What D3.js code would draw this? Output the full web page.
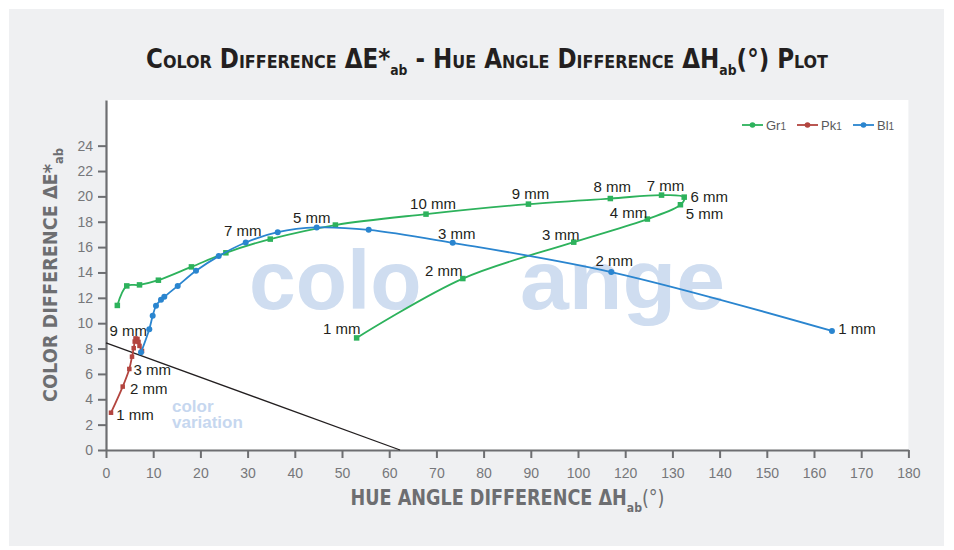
<!DOCTYPE html>
<html>
<head>
<meta charset="utf-8">
<script src="https://cdn.jsdelivr.net/npm/d3@7"></script>
<style>
  html, body { margin: 0; padding: 0; background: #ffffff; }
  svg { display: block; }
</style>
</head>
<body>
<svg id="chart" width="954" height="550"></svg>
<script>
// ---------------- data ----------------
const seriesNames = ["Gr1", "Pk1", "Bl1"];

const xTickValues = [0, 10, 20, 30, 40, 50, 60, 70, 80, 90, 100, 120, 130, 140, 150, 160, 170, 180];
const yTickValues = [0, 2, 4, 6, 8, 10, 12, 14, 16, 18, 20, 22, 24];

const gr1X = [53.1, 75.6, 99.1, 124.7, 131.7, 132.5, 127.7, 113.7, 89.5, 67.8, 48.6, 34.8, 25.4, 18.1, 11.1, 7.1, 4.4, 2.4];
const gr1Y = [8.84, 13.52, 16.39, 18.21, 19.34, 19.94, 20.10, 19.83, 19.39, 18.60, 17.74, 16.63, 15.55, 14.44, 13.39, 13.02, 12.94, 11.40];

const pk1X = [1.06, 3.54, 4.94, 5.51, 5.87, 6.08, 6.25, 6.67, 6.89, 7.10, 7.63];
const pk1Y = [2.94, 5.00, 6.39, 7.36, 8.03, 8.55, 8.80, 8.76, 8.52, 8.21, 7.81];

const bl1X = [163.8, 114.1, 73.45, 55.66, 44.64, 36.38, 29.60, 23.88, 19.07, 15.19, 12.35, 11.65, 10.59, 9.89, 9.17, 7.42];
const bl1Y = [9.39, 14.03, 16.34, 17.36, 17.55, 17.18, 16.36, 15.29, 14.13, 12.94, 12.08, 11.84, 11.37, 10.58, 9.53, 7.70];

// point labels: [point index, text]
const gr1Labels = [[0, "1 mm"], [1, "2 mm"], [2, "3 mm"], [3, "4 mm"], [4, "5 mm"], [5, "6 mm"], [6, "7 mm"], [7, "8 mm"], [8, "9 mm"], [9, "10 mm"]];
const pk1Labels = [[0, "1 mm"], [1, "2 mm"], [2, "3 mm"]];
const bl1Labels = [[0, "1 mm"], [1, "2 mm"], [2, "3 mm"], [4, "5 mm"], [6, "7 mm"], [14, "9 mm"]];

// reference (boundary) line
const refLineX = [0, 62.3];
const refLineY = [8.45, 0];

// watermark words
const watermarkWords = ["colo", "ange"];
const watermarkSmall = ["color", "variation"];

// ---------------- layout / style ----------------
const W = 954, H = 550;
const plot = { left: 106, top: 100, right: 908.4, bottom: 450 };
const colors = { Gr1: "#2db25c", Pk1: "#b3453f", Bl1: "#2a85cf" };
// label offsets (px) for each label, same order as the label arrays
const gr1LabelOff = [[-15, -9], [-19, -8], [-13, -8], [-19, -7], [24, 9], [25, -1], [4, -10], [2, -12], [2, -11], [7, -11]];
const pk1LabelOff = [[24, 2], [26, 2], [23, 1]];
const bl1LabelOff = [[25, -2], [3, -12], [4, -9], [-5, -10], [-3, -12], [-21, 1.5]];

const svg = d3.select("#chart");

svg.append("rect").attr("x", 0).attr("y", 0).attr("width", W).attr("height", H).attr("fill", "#ffffff");
svg.append("rect").attr("x", 9).attr("y", 9).attr("width", 935).attr("height", 537).attr("fill", "#eff0f2");
svg.append("rect").attr("x", plot.left).attr("y", plot.top)
  .attr("width", plot.right - plot.left).attr("height", plot.bottom - plot.top).attr("fill", "#ffffff");

// scales (tick 110 is absent on the original axis: 100 is followed directly by 120)
const x = d3.scaleLinear().domain([0, 100, 120, 180]).range([106, 578, 625.2, 908.4]);
const y = d3.scaleLinear().domain([0, 27.6]).range([450, 100]);

// watermark
const wm = svg.append("g").attr("fill", "#cfddf0").attr("font-family", "'Liberation Sans', Arial, sans-serif").attr("font-weight", "bold");
wm.append("text").attr("x", 249).attr("y", 309).attr("font-size", 84).text(watermarkWords[0]);
wm.append("text").attr("x", 520).attr("y", 309).attr("font-size", 84).attr("textLength", 205).attr("lengthAdjust", "spacingAndGlyphs").text(watermarkWords[1]);
const wms = svg.append("g").attr("fill", "#c6d7ef").attr("font-family", "'Liberation Sans', Arial, sans-serif").attr("font-weight", "bold").attr("font-size", 17);
wms.append("text").attr("x", 172).attr("y", 412).text(watermarkSmall[0]);
wms.append("text").attr("x", 172).attr("y", 428).text(watermarkSmall[1]);

// axes
const axisColor = "#6d6e71";
const xAxis = svg.append("g").attr("transform", `translate(0,${plot.bottom})`)
  .call(d3.axisBottom(x).tickValues(xTickValues).tickFormat(d => String(d)).tickSize(8).tickSizeOuter(0).tickPadding(10));
const yAxis = svg.append("g").attr("transform", `translate(${plot.left},0)`)
  .call(d3.axisLeft(y).tickValues(yTickValues).tickSize(8).tickSizeOuter(0).tickPadding(5));
[xAxis, yAxis].forEach(a => {
  a.select(".domain").attr("stroke", axisColor).attr("stroke-width", 2.2);
  a.selectAll(".tick line").attr("stroke", axisColor).attr("stroke-width", 2);
  a.selectAll(".tick text").attr("fill", "#76777a").attr("font-size", 14)
    .attr("font-family", "'Liberation Sans', Arial, sans-serif");
});

// reference line
const refPts = refLineX.map((v, i) => [v, refLineY[i]]);
svg.append("path").attr("d", d3.line().x(d => x(d[0])).y(d => y(d[1]))(refPts))
  .attr("fill", "none").attr("stroke", "#231f20").attr("stroke-width", 1.3);

// series
const series = [
  { name: "Gr1", xs: gr1X, ys: gr1Y, labels: gr1Labels, off: gr1LabelOff, marker: "square", size: 5.5 },
  { name: "Pk1", xs: pk1X, ys: pk1Y, labels: pk1Labels, off: pk1LabelOff, marker: "square", size: 4.5 },
  { name: "Bl1", xs: bl1X, ys: bl1Y, labels: bl1Labels, off: bl1LabelOff, marker: "circle", size: 3 }
];
const line = d3.line().x(d => x(d[0])).y(d => y(d[1])).curve(d3.curveCatmullRom.alpha(0.5));

series.forEach(s => {
  const pts = s.xs.map((v, i) => [v, s.ys[i]]);
  const g = svg.append("g");
  g.append("path").attr("d", line(pts)).attr("fill", "none")
    .attr("stroke", colors[s.name]).attr("stroke-width", 1.8);
  if (s.marker === "square") {
    g.selectAll("rect.m").data(pts).enter().append("rect").attr("class", "m")
      .attr("x", d => x(d[0]) - s.size / 2).attr("y", d => y(d[1]) - s.size / 2)
      .attr("width", s.size).attr("height", s.size).attr("fill", colors[s.name]);
  } else {
    g.selectAll("circle.m").data(pts).enter().append("circle").attr("class", "m")
      .attr("cx", d => x(d[0])).attr("cy", d => y(d[1])).attr("r", s.size).attr("fill", colors[s.name]);
  }
});

// point labels
series.forEach(s => {
  svg.append("g").selectAll("text").data(s.labels).enter().append("text")
    .attr("x", (d, i) => x(s.xs[d[0]]) + s.off[i][0])
    .attr("y", (d, i) => y(s.ys[d[0]]) + s.off[i][1])
    .attr("text-anchor", "middle").attr("dominant-baseline", "central")
    .attr("font-family", "'Liberation Sans', Arial, sans-serif").attr("font-size", 15)
    .attr("fill", "#231f20").text(d => d[1]);
});

// legend
const legend = svg.append("g").attr("font-family", "'Liberation Sans', Arial, sans-serif").attr("font-size", 13).attr("fill", "#58595b");
const legendX = [742, 797, 853];
seriesNames.forEach((n, i) => {
  const lx = legendX[i];
  legend.append("line").attr("x1", lx).attr("x2", lx + 21).attr("y1", 125).attr("y2", 125)
    .attr("stroke", colors[n]).attr("stroke-width", 1.8);
  legend.append("circle").attr("cx", lx + 10.5).attr("cy", 125).attr("r", 2.8).attr("fill", colors[n]);
  const t = legend.append("text").attr("x", lx + 24).attr("y", 129.5);
  t.append("tspan").text(n.slice(0, -1));
  t.append("tspan").attr("font-size", 10).text(n.slice(-1));
});

// title
const condensed = "'Liberation Sans Narrow', 'DejaVu Sans Condensed', 'Arial Narrow', sans-serif";
const title = svg.append("text").attr("x", 146).attr("y", 68)
  .attr("font-family", condensed).attr("font-weight", "bold").attr("font-size", 26)
  .attr("font-variant", "small-caps").attr("fill", "#231f20")
  .attr("textLength", 682).attr("lengthAdjust", "spacingAndGlyphs");
title.append("tspan").text("Color Difference ΔE*");
title.append("tspan").attr("font-size", 14).attr("dy", 7).attr("font-variant", "normal").text("ab");
title.append("tspan").attr("dy", -7).text(" - Hue Angle Difference ΔH");
title.append("tspan").attr("font-size", 14).attr("dy", 7).attr("font-variant", "normal").text("ab");
title.append("tspan").attr("dy", -7).text("(°) Plot");

// x axis title
const xt = svg.append("text").attr("x", 350.5).attr("y", 505)
  .attr("font-family", condensed).attr("font-weight", "bold").attr("font-size", 21).attr("fill", axisColor)
  .attr("textLength", 314).attr("lengthAdjust", "spacingAndGlyphs");
xt.append("tspan").text("HUE ANGLE DIFFERENCE ΔH");
xt.append("tspan").attr("font-size", 13).attr("dy", 7).text("ab");
xt.append("tspan").attr("dy", -7).attr("font-weight", "normal").text("(°)");

// y axis title
const yt = svg.append("text").attr("transform", "translate(57,402) rotate(-90)")
  .attr("font-family", condensed).attr("font-weight", "bold").attr("font-size", 20).attr("fill", axisColor)
  .attr("textLength", 254).attr("lengthAdjust", "spacingAndGlyphs");
yt.append("tspan").text("COLOR DIFFERENCE ΔE*");
yt.append("tspan").attr("font-size", 13).attr("dy", 6).text("ab");
</script>
</body>
</html>
